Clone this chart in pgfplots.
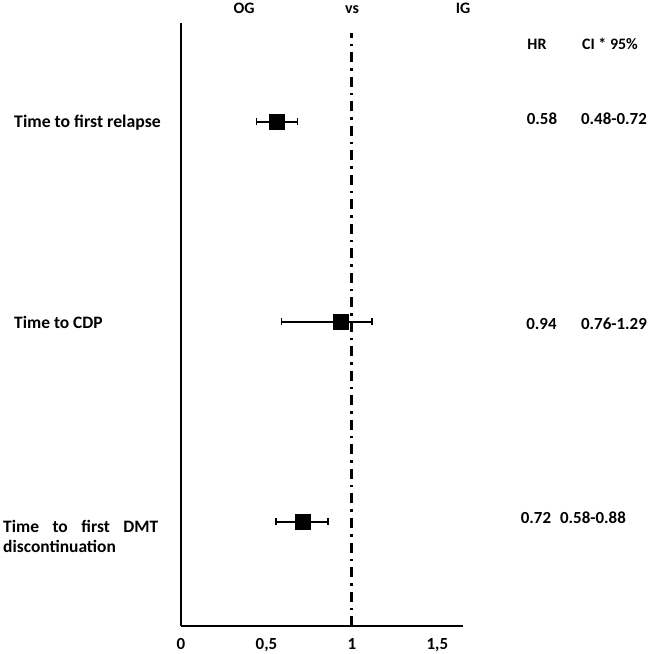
\documentclass[border=0pt]{standalone}
\usepackage{fontspec}
\setmainfont{Carlito}
\usepackage{pgfplots}
\pgfplotsset{compat=1.18}
\begin{document}
\begin{tikzpicture}
\begin{axis}[
  scale only axis,
  width=282bp, height=603bp,
  xmin=0, xmax=1.65, ymin=0, ymax=6.03,
  axis x line*=bottom, axis y line*=left,
  axis line style={line width=1.6bp, -},
  xtick={0,0.5,1,1.5},
  xticklabels={0,{0,5},1,{1,5}},
  ytick=\empty,
  major tick length=0pt,
  xticklabel style={font=\fontsize{17}{20}\selectfont\bfseries, yshift=-9bp},
  /pgf/number format/assume math mode=true,
  clip=false,
]
% reference line at HR = 1
\addplot[black, line width=3bp, dash pattern=on 10bp off 6bp on 2.5bp off 6bp]
  coordinates {(1,0) (1,5.93)};
% hazard ratios with drawn confidence intervals
\addplot[only marks, mark=square*, mark size=7.5bp, black,
  error bars/.cd, x dir=both, x explicit, error mark=|,
  error bar style={line width=1.3bp, black},
  error mark options={line width=1.3bp, mark size=3.5bp, black}]
  coordinates {
    (0.56,5.04)  += (0.12,0)  -= (0.12,0)
    (0.936,3.04) += (0.181,0) -= (0.346,0)
    (0.713,1.04) += (0.147,0) -= (0.157,0)
  };
\end{axis}
\begin{scope}[every node/.style={inner sep=0pt, anchor=base}]
  \node[font=\fontsize{16}{19}\selectfont\bfseries] at (63bp,612bp) {OG};
  \node[font=\fontsize{16}{19}\selectfont\bfseries] at (171bp,612bp) {vs};
  \node[font=\fontsize{16}{19}\selectfont\bfseries] at (282bp,612bp) {IG};
  \node[font=\fontsize{16}{19}\selectfont\bfseries] at (356bp,576bp) {HR};
  \node[font=\fontsize{16}{19}\selectfont\bfseries] at (429bp,576bp) {CI * 95\%};
  \node[font=\fontsize{17.8}{21}\selectfont\bfseries] at (-93.5bp,498bp) {Time to first relapse};
  \node[font=\fontsize{17.5}{21}\selectfont\bfseries] at (-122.5bp,297bp) {Time to CDP};
  \node[font=\fontsize{17.5}{21}\selectfont\bfseries, anchor=base west] at (-178bp,93bp) {\hbox to 155bp{Time\hfill to\hfill first\hfill DMT}};
  \node[font=\fontsize{17.5}{21}\selectfont\bfseries, anchor=base west] at (-178bp,73bp) {discontinuation};
  \node[font=\fontsize{17}{20}\selectfont\bfseries] at (361bp,501bp) {0.58};
  \node[font=\fontsize{17}{20}\selectfont\bfseries] at (433bp,501bp) {0.48-0.72};
  \node[font=\fontsize{17}{20}\selectfont\bfseries] at (360.5bp,296bp) {0.94};
  \node[font=\fontsize{17}{20}\selectfont\bfseries] at (433bp,296bp) {0.76-1.29};
  \node[font=\fontsize{17}{20}\selectfont\bfseries] at (355bp,102bp) {0.72};
  \node[font=\fontsize{17}{20}\selectfont\bfseries] at (412bp,102bp) {0.58-0.88};
\end{scope}
\pgfresetboundingbox
\path[use as bounding box] (-181bp,-28bp) rectangle (468bp,626bp);
\end{tikzpicture}
\end{document}
